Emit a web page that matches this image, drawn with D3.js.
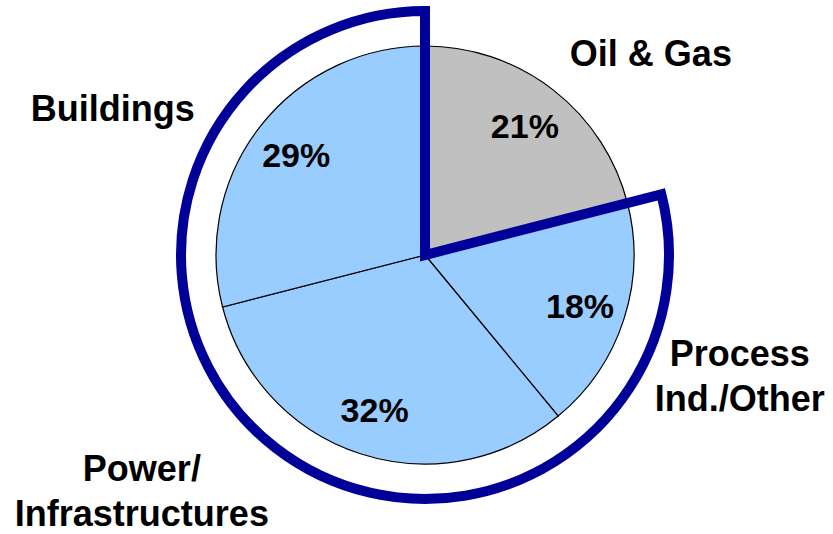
<!DOCTYPE html>
<html>
<head>
<meta charset="utf-8">
<script src="https://cdn.jsdelivr.net/npm/d3@7"></script>
<style>
  body { margin: 0; background: #fff; }
  text { font-family: Arial, "Liberation Sans", sans-serif; font-weight: bold; fill: #000; }
</style>
</head>
<body>
<svg id="pie_chart" width="833" height="534"></svg>
<script>
// data
var categories = ["Oil & Gas", "Process Ind./Other", "Power/ Infrastructures", "Buildings"];
var shares = [21, 18, 32, 29];
var labelLines = [["Oil & Gas"], ["Process", "Ind./Other"], ["Power/", "Infrastructures"], ["Buildings"]];
var sliceColors = ["#c0c0c0", "#99ccff", "#99ccff", "#99ccff"];

// where the category names sit: angle (deg, clockwise from 12 o'clock) and distance from centre
var labelPolar = [[48.2, 303], [110.9, 337], [230.3, 368], [295.2, 345]];

var svg = d3.select("#pie_chart"),
    cx = 425, cy = 255,
    radius = 209,
    g = svg.append("g").attr("transform", "translate(" + cx + "," + cy + ")");

var data = categories.map(function(c, i) { return {name: c, value: shares[i], i: i}; });

var pie = d3.pie()
    .sort(null)
    .value(function(d) { return d.value; });

var arcs = pie(data);

var path = d3.arc()
    .outerRadius(radius)
    .innerRadius(0);

var label = d3.arc()
    .outerRadius(163)
    .innerRadius(163);

// slices
g.selectAll(".arc")
  .data(arcs)
  .enter().append("path")
    .attr("class", "arc")
    .attr("d", path)
    .attr("fill", function(d) { return sliceColors[d.data.i]; })
    .attr("stroke", "#000")
    .attr("stroke-width", 1.2);

// thick outline round everything except oil & gas
var outline = d3.arc()
    .outerRadius(244)
    .innerRadius(0)
    .startAngle(arcs[0].endAngle)
    .endAngle(2 * Math.PI);

g.append("path")
    .attr("d", outline())
    .attr("fill", "none")
    .attr("stroke", "#000099")
    .attr("stroke-width", 10)
    .attr("stroke-linejoin", "miter");

// percentages
g.selectAll(".pct")
  .data(arcs)
  .enter().append("text")
    .attr("class", "pct")
    .attr("transform", function(d) { return "translate(" + label.centroid(d) + ")"; })
    .attr("dy", "0.36em")
    .attr("text-anchor", "middle")
    .style("font-size", "34px")
    .text(function(d) { return d.data.value + "%"; });

// category names
var names = g.selectAll(".name")
  .data(data)
  .enter().append("text")
    .attr("class", "name")
    .attr("text-anchor", "middle")
    .style("font-size", "36px")
    .attr("transform", function(d) {
      var p = labelPolar[d.i];
      return "translate(" + d3.pointRadial(p[0] * Math.PI / 180, p[1]) + ")";
    });

names.each(function(d) {
  var lines = labelLines[d.i];
  var t = d3.select(this);
  lines.forEach(function(l, k) {
    t.append("tspan")
      .attr("x", 0)
      .attr("y", (k - (lines.length - 1) / 2) * 45)
      .attr("dy", "0.36em")
      .text(l);
  });
});
</script>
</body>
</html>
